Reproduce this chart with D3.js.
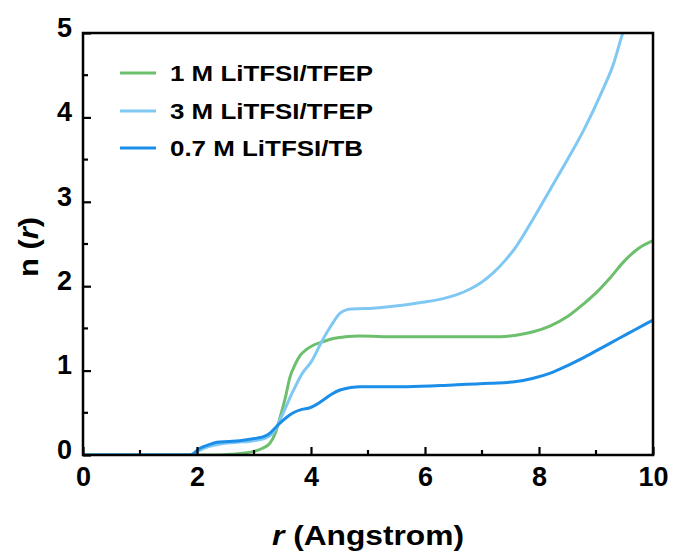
<!DOCTYPE html>
<html>
<head>
<meta charset="utf-8">
<script src="https://cdn.jsdelivr.net/npm/d3@7/dist/d3.min.js"></script>
<style>
  html, body { margin: 0; padding: 0; background: #fff; }
  svg text { font-family: "Liberation Sans", Arial, sans-serif; font-weight: bold; fill: #000; }
</style>
</head>
<body>
<svg id="chart" width="674" height="552"></svg>
<script>
// Cumulative coordination number n(r) for three electrolytes
const seriesNames = ["1 M LiTFSI/TFEP", "3 M LiTFSI/TFEP", "0.7 M LiTFSI/TB"];
const seriesColors = ["#6cbf6c", "#80c8f4", "#1a8ee8"];

const r1M = [0, 2.3, 2.6, 2.98, 3.15, 3.28, 3.38, 3.46, 3.55, 3.63, 3.72, 3.81, 3.92, 4.04, 4.2, 4.39, 4.6, 4.86, 5.5, 6.5, 7.2, 7.6, 7.9, 8.2, 8.5, 8.8, 9.0, 9.25, 9.5, 9.75, 10];
const n1M = [0, 0, 0.01, 0.04, 0.08, 0.14, 0.27, 0.45, 0.68, 0.92, 1.07, 1.18, 1.25, 1.30, 1.34, 1.38, 1.40, 1.41, 1.40, 1.40, 1.40, 1.42, 1.46, 1.53, 1.64, 1.80, 1.92, 2.10, 2.30, 2.45, 2.54];

const r3M = [0, 1.9, 2.0, 2.2, 2.4, 2.7, 3.0, 3.2, 3.3, 3.37, 3.5, 3.68, 3.85, 4.0, 4.2, 4.36, 4.51, 4.62, 4.74, 5.09, 5.56, 5.96, 6.3, 6.56, 6.8, 7.0, 7.2, 7.4, 7.6, 7.9, 8.2, 8.5, 8.8, 9.1, 9.3, 9.47, 9.55];
const n3M = [0, 0, 0.04, 0.10, 0.13, 0.15, 0.17, 0.20, 0.24, 0.30, 0.48, 0.75, 0.97, 1.10, 1.36, 1.54, 1.68, 1.72, 1.73, 1.74, 1.77, 1.81, 1.85, 1.90, 1.97, 2.05, 2.16, 2.30, 2.47, 2.80, 3.15, 3.50, 3.87, 4.30, 4.62, 5.00, 5.15];

const r07M = [0, 1.88, 2.05, 2.2, 2.35, 2.55, 2.75, 3.05, 3.18, 3.28, 3.37, 3.46, 3.58, 3.69, 3.84, 3.98, 4.1, 4.21, 4.36, 4.51, 4.7, 4.86, 5.68, 6.5, 7.14, 7.6, 7.9, 8.2, 8.5, 8.8, 9.1, 9.4, 9.7, 10];
const n07M = [0, 0, 0.08, 0.12, 0.15, 0.16, 0.17, 0.20, 0.22, 0.26, 0.32, 0.38, 0.45, 0.50, 0.54, 0.56, 0.60, 0.65, 0.72, 0.77, 0.80, 0.81, 0.81, 0.83, 0.85, 0.87, 0.91, 0.97, 1.06, 1.16, 1.27, 1.38, 1.49, 1.60];

const xTicks = [0, 2, 4, 6, 8, 10];
const yTicks = [0, 1, 2, 3, 4, 5];
const xMinor = [1, 3, 5, 7, 9];
const yMinor = [0.5, 1.5, 2.5, 3.5, 4.5];

const svg = d3.select("#chart");
const plotL = 83, plotR = 653, plotT = 33, plotB = 455;

const x = d3.scaleLinear().domain([0, 10]).range([plotL, plotR]);
const y = d3.scaleLinear().domain([0, 5]).range([plotB, plotT]);

svg.append("defs").append("clipPath").attr("id", "plotClip")
  .append("rect").attr("x", plotL).attr("y", plotT)
  .attr("width", plotR - plotL).attr("height", plotB - plotT);

const line = d3.line()
  .x(d => x(d[0]))
  .y(d => y(d[1]))
  .curve(d3.curveMonotoneX);

const series = [
  d3.zip(r1M, n1M),
  d3.zip(r3M, n3M),
  d3.zip(r07M, n07M)
];

const plot = svg.append("g").attr("clip-path", "url(#plotClip)");
series.forEach((s, i) => {
  plot.append("path")
    .datum(s)
    .attr("fill", "none")
    .attr("stroke", seriesColors[i])
    .attr("stroke-width", 3)
    .attr("stroke-linejoin", "round")
    .attr("d", line);
});

// Axes with inward ticks
const xAxis = d3.axisBottom(x).tickValues(xTicks).tickSize(-8).tickPadding(14).tickFormat(d3.format("d"));
const yAxis = d3.axisLeft(y).tickValues(yTicks).tickSize(-8).tickPadding(11).tickFormat(d3.format("d"));

const gx = svg.append("g").attr("transform", `translate(0,${plotB})`).call(xAxis);
const gy = svg.append("g").attr("transform", `translate(${plotL},0)`).call(yAxis);

[gx, gy].forEach(g => {
  g.select(".domain").remove();
  g.selectAll(".tick line").attr("stroke", "#000").attr("stroke-width", 2.2);
  g.selectAll(".tick text").style("font-size", "27px").attr("fill", "#000");
});
gx.selectAll(".tick text").attr("dy", "0.71em").attr("y", 12);
gy.selectAll(".tick text").attr("dy", "0.12em");

// Minor ticks
svg.append("g").selectAll("line").data(xMinor).join("line")
  .attr("x1", d => x(d)).attr("x2", d => x(d))
  .attr("y1", plotB).attr("y2", plotB - 5)
  .attr("stroke", "#000").attr("stroke-width", 2.2);
svg.append("g").selectAll("line").data(yMinor).join("line")
  .attr("x1", plotL).attr("x2", plotL + 5)
  .attr("y1", d => y(d)).attr("y2", d => y(d))
  .attr("stroke", "#000").attr("stroke-width", 2.2);

// Frame
svg.append("rect")
  .attr("x", plotL).attr("y", plotT)
  .attr("width", plotR - plotL).attr("height", plotB - plotT)
  .attr("fill", "none").attr("stroke", "#000").attr("stroke-width", 2.5);

// Axis titles
const xt = svg.append("text")
  .attr("x", (plotL + plotR) / 2).attr("y", 545)
  .attr("text-anchor", "middle")
  .style("font-size", "28px")
  .attr("textLength", 192).attr("lengthAdjust", "spacingAndGlyphs");
xt.append("tspan").style("font-style", "italic").text("r");
xt.append("tspan").text(" (Angstrom)");

const yt = svg.append("text")
  .attr("transform", "translate(38,247) rotate(-90)")
  .attr("text-anchor", "middle")
  .style("font-size", "28px")
  .attr("textLength", 60).attr("lengthAdjust", "spacingAndGlyphs");
yt.append("tspan").text("n (");
yt.append("tspan").style("font-style", "italic").text("r");
yt.append("tspan").text(")");

// Legend
const legendRows = [73, 111, 148];
const legendWidths = [203, 203, 193];
const legend = svg.append("g");
seriesNames.forEach((name, i) => {
  legend.append("line")
    .attr("x1", 120).attr("x2", 156)
    .attr("y1", legendRows[i]).attr("y2", legendRows[i])
    .attr("stroke", seriesColors[i]).attr("stroke-width", 3);
  legend.append("text")
    .attr("x", 170).attr("y", legendRows[i] + 8)
    .style("font-size", "22px")
    .attr("textLength", legendWidths[i]).attr("lengthAdjust", "spacingAndGlyphs")
    .text(name);
});
</script>
</body>
</html>
